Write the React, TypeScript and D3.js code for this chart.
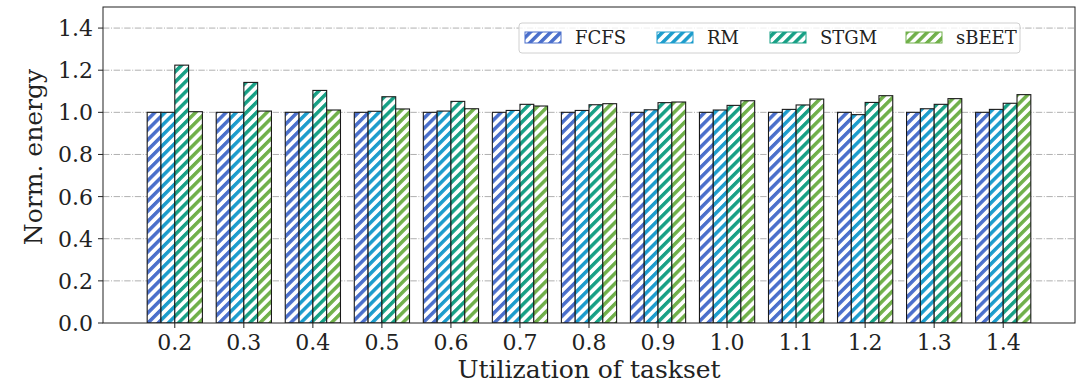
import React from "react";
import * as d3 from "d3";

// Utilization levels of the taskset (x categories)
const categories = ["0.2", "0.3", "0.4", "0.5", "0.6", "0.7", "0.8", "0.9", "1.0", "1.1", "1.2", "1.3", "1.4"];

// Normalized energy per scheduler
const fcfs = [1.0, 1.0, 1.0, 1.0, 1.0, 1.0, 1.0, 1.0, 1.0, 1.0, 1.0, 1.0, 1.0];
const rm = [1.0, 1.0, 1.001, 1.005, 1.006, 1.009, 1.009, 1.012, 1.011, 1.014, 0.989, 1.017, 1.014];
const stgm = [1.224, 1.142, 1.104, 1.074, 1.052, 1.038, 1.036, 1.046, 1.033, 1.035, 1.047, 1.038, 1.043];
const sbeet = [1.003, 1.006, 1.011, 1.016, 1.017, 1.030, 1.041, 1.049, 1.055, 1.063, 1.079, 1.065, 1.084];

const seriesNames = ["FCFS", "RM", "STGM", "sBEET"];
const seriesValues = [fcfs, rm, stgm, sbeet];
const seriesColors = ["#4a6fcb", "#1c9ccc", "#17a085", "#70b04a"];

const yTicks = [0.0, 0.2, 0.4, 0.6, 0.8, 1.0, 1.2, 1.4];

const W = 1079;
const H = 384;
const plot = { left: 103, right: 1075, top: 7, bottom: 323 };
const FONT = "'DejaVu Serif', serif";

export default function App() {
  const n = categories.length;
  const x = d3.scaleLinear().domain([-1.04, n - 1 + 1.04]).range([plot.left, plot.right]);
  const y = d3.scaleLinear().domain([0, 1.5]).range([plot.bottom, plot.top]);
  const barW = 0.2;
  const px = (v: number) => x(v) - x(0);

  const legendX = [525, 657, 770, 906];

  return (
    <svg
      width={W}
      height={H}
      style={{ position: "absolute", left: 0, top: 0, background: "#fff" }}
      fontFamily={FONT}
    >
      <defs>
        {seriesColors.map((c, i) => (
          <pattern
            key={i}
            id={`hatch-${i}`}
            patternUnits="userSpaceOnUse"
            width={7.2}
            height={7.2}
            patternTransform="rotate(45)"
          >
            <rect width={7.2} height={7.2} fill="#fff" />
            <rect x={0} y={0} width={3.5} height={7.2} fill={c} />
          </pattern>
        ))}
        <clipPath id="plot-clip">
          <rect x={plot.left} y={plot.top} width={plot.right - plot.left} height={plot.bottom - plot.top} />
        </clipPath>
      </defs>

      {/* horizontal grid */}
      {yTicks.slice(1).map((t) => (
        <line
          key={t}
          x1={plot.left}
          x2={plot.right}
          y1={y(t)}
          y2={y(t)}
          stroke="#b0b0b0"
          strokeWidth={1}
          strokeDasharray="6.4,1.6,1,1.6"
        />
      ))}

      {/* bars */}
      <g clipPath="url(#plot-clip)">
        {seriesValues.map((vals, s) =>
          vals.map((v, i) => {
            const cx = i + (s - 1.5) * barW;
            const x0 = x(cx - barW / 2);
            return (
              <rect
                key={`${s}-${i}`}
                x={x0}
                y={y(v)}
                width={px(barW)}
                height={y(0) - y(v)}
                fill={`url(#hatch-${s})`}
                stroke="#1a1a1a"
                strokeWidth={1.1}
              />
            );
          })
        )}
      </g>

      {/* frame */}
      <rect
        x={plot.left}
        y={plot.top}
        width={plot.right - plot.left}
        height={plot.bottom - plot.top}
        fill="none"
        stroke="#222"
        strokeWidth={1}
      />

      {/* y axis */}
      {yTicks.map((t) => (
        <g key={t}>
          <line x1={plot.left - 5} x2={plot.left} y1={y(t)} y2={y(t)} stroke="#222" strokeWidth={1} />
          <text x={plot.left - 10} y={y(t)} dy="0.36em" textAnchor="end" fontSize={22} fill="#222">
            {t.toFixed(1)}
          </text>
        </g>
      ))}

      {/* x axis */}
      {categories.map((c, i) => (
        <g key={c}>
          <line x1={x(i)} x2={x(i)} y1={plot.bottom} y2={plot.bottom + 5} stroke="#222" strokeWidth={1} />
          <text x={x(i)} y={350} textAnchor="middle" fontSize={22} fill="#222">
            {c}
          </text>
        </g>
      ))}

      <text x={(plot.left + plot.right) / 2} y={378} textAnchor="middle" fontSize={25} fill="#222">
        Utilization of taskset
      </text>
      <text
        transform={`translate(42, 157) rotate(-90)`}
        textAnchor="middle"
        fontSize={25}
        fill="#222"
      >
        Norm. energy
      </text>

      {/* legend */}
      <rect x={519} y={23} width={501} height={30} rx={3} fill="#fff" fillOpacity={0.8} stroke="#d0d0d0" strokeWidth={1} />
      {seriesNames.map((name, s) => (
        <g key={name}>
          <rect x={legendX[s]} y={32} width={36} height={11} fill={`url(#hatch-${s})`} stroke={seriesColors[s]} strokeWidth={1} />
          <text x={legendX[s] + 50} y={44} fontSize={18} fill="#222">
            {name}
          </text>
        </g>
      ))}
    </svg>
  );
}
